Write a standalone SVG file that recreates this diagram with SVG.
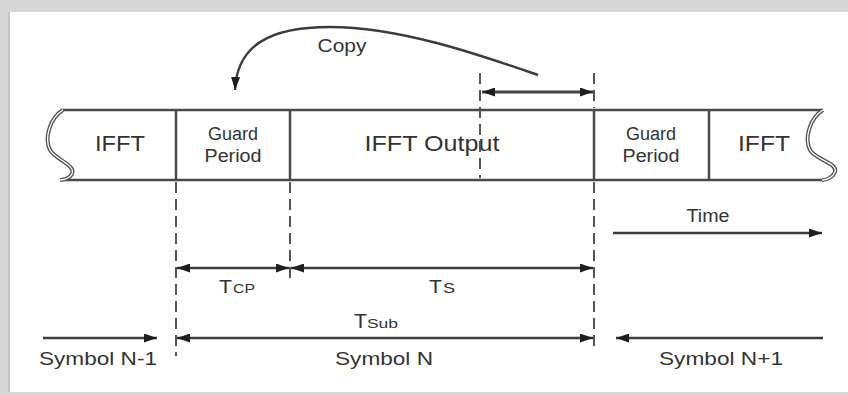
<svg xmlns="http://www.w3.org/2000/svg" width="848" height="395" viewBox="0 0 848 395">
<style>
text{font-family:"Liberation Sans",Arial,sans-serif;fill:#333;}
.big{font-size:22px;}
.mid{font-size:18px;}
.lbl{font-size:19px;}
.box{stroke:#4a4a4a;stroke-width:2.5;fill:none;}
.dash{stroke:#555;stroke-width:2;stroke-dasharray:11 6;fill:none;}
.arr{stroke:#3c3c3c;stroke-width:2.4;fill:none;}
</style>
<defs>
<marker id="ah" viewBox="0 0 13 9" refX="13" refY="4.5" markerWidth="13" markerHeight="9" markerUnits="userSpaceOnUse" orient="auto-start-reverse">
<path d="M0,0 L13,4.5 L0,9 Z" fill="#1e1e1e"/>
</marker>
</defs>
<rect x="0" y="0" width="848" height="395" fill="#fff"/>
<rect x="0" y="0" width="848" height="12" fill="#d6d6d6"/>
<rect x="0" y="0" width="8" height="395" fill="#d6d6d6"/>
<rect x="0" y="392" width="848" height="3" fill="#d6d6d6"/>
<line x1="9" y1="12" x2="9" y2="392" stroke="#c4c4c4" stroke-width="2"/>

<g id="frame">
<line class="box" x1="63" y1="110" x2="823" y2="110"/>
<line class="box" x1="60" y1="180" x2="822" y2="180"/>
<path d="M63,110 C50,118 44,138 50,150 C56,160 76,165 72,174 C70,178 64,180 60,180" stroke="#555" stroke-width="4" fill="none"/>
<path d="M63,110 C50,118 44,138 50,150 C56,160 76,165 72,174 C70,178 64,180 60,180" stroke="#fff" stroke-width="1.3" fill="none"/>
<path d="M823,110 C810,118 804,138 810,150 C816,160 838,163 835,172 C833,177 827,180 822,180" stroke="#555" stroke-width="4" fill="none"/>
<path d="M823,110 C810,118 804,138 810,150 C816,160 838,163 835,172 C833,177 827,180 822,180" stroke="#fff" stroke-width="1.3" fill="none"/>
</g>

<g id="ifft-left">
<text class="big" x="120" y="151" text-anchor="middle" textLength="50" lengthAdjust="spacingAndGlyphs">IFFT</text>
</g>
<g id="guard-left">
<line class="box" x1="176" y1="110" x2="176" y2="180"/>
<text class="mid" x="233" y="140" text-anchor="middle" textLength="50" lengthAdjust="spacingAndGlyphs">Guard</text>
<text class="mid" x="233" y="162" text-anchor="middle" textLength="57" lengthAdjust="spacingAndGlyphs">Period</text>
</g>
<g id="ifft-output">
<line class="box" x1="290" y1="110" x2="290" y2="180"/>
<text class="big" x="432" y="151" text-anchor="middle" textLength="135" lengthAdjust="spacingAndGlyphs">IFFT Output</text>
</g>
<g id="guard-right">
<line class="box" x1="594" y1="110" x2="594" y2="180"/>
<text class="mid" x="651" y="140" text-anchor="middle" textLength="50" lengthAdjust="spacingAndGlyphs">Guard</text>
<text class="mid" x="651" y="162" text-anchor="middle" textLength="57" lengthAdjust="spacingAndGlyphs">Period</text>
</g>
<g id="ifft-right">
<line class="box" x1="709" y1="110" x2="709" y2="180"/>
<text class="big" x="764" y="151" text-anchor="middle" textLength="52" lengthAdjust="spacingAndGlyphs">IFFT</text>
</g>

<g id="connectors">
<line class="dash" x1="480" y1="73" x2="480" y2="178"/>
<line class="dash" x1="594" y1="73" x2="594" y2="108"/>
<line class="dash" x1="176" y1="182" x2="176" y2="356"/>
<line class="dash" x1="290" y1="182" x2="290" y2="282"/>
<line class="dash" x1="594" y1="182" x2="594" y2="352"/>
<path class="arr" d="M538,75 C480,55 400,27 330,27 C270,27 237,45 235,90" marker-end="url(#ah)"/>
<line x1="482" y1="92" x2="593" y2="92" stroke="#444" stroke-width="3" marker-start="url(#ah)" marker-end="url(#ah)"/>
<line class="arr" x1="177" y1="268" x2="289" y2="268" marker-start="url(#ah)" marker-end="url(#ah)"/>
<line class="arr" x1="291" y1="268" x2="593" y2="268" marker-start="url(#ah)" marker-end="url(#ah)"/>
<line class="arr" x1="177" y1="338" x2="593" y2="338" marker-start="url(#ah)" marker-end="url(#ah)"/>
<line class="arr" x1="613" y1="233" x2="822" y2="233" marker-end="url(#ah)"/>
<line class="arr" x1="43" y1="338" x2="157" y2="338" marker-end="url(#ah)"/>
<line class="arr" x1="823" y1="338" x2="616" y2="338" marker-end="url(#ah)"/>
</g>

<g id="labels">
<text class="mid" x="342" y="52" text-anchor="middle" textLength="49" lengthAdjust="spacingAndGlyphs">Copy</text>
<text class="mid" x="708" y="222" text-anchor="middle" textLength="43" lengthAdjust="spacingAndGlyphs">Time</text>
<text x="219" y="293" font-size="19" textLength="13" lengthAdjust="spacingAndGlyphs">T</text>
<text x="233" y="293" font-size="12" textLength="22" lengthAdjust="spacingAndGlyphs">CP</text>
<text x="429" y="293" font-size="19" textLength="13" lengthAdjust="spacingAndGlyphs">T</text>
<text x="443" y="293" font-size="14" textLength="12" lengthAdjust="spacingAndGlyphs">S</text>
<text x="354" y="328" font-size="20" textLength="13" lengthAdjust="spacingAndGlyphs">T</text>
<text x="367" y="328" font-size="13" textLength="31" lengthAdjust="spacingAndGlyphs">Sub</text>
<text class="lbl" x="39" y="365" textLength="118" lengthAdjust="spacingAndGlyphs">Symbol N-1</text>
<text class="lbl" x="335" y="365" textLength="98" lengthAdjust="spacingAndGlyphs">Symbol N</text>
<text class="lbl" x="659" y="365" textLength="124" lengthAdjust="spacingAndGlyphs">Symbol N+1</text>
</g>
</svg>
